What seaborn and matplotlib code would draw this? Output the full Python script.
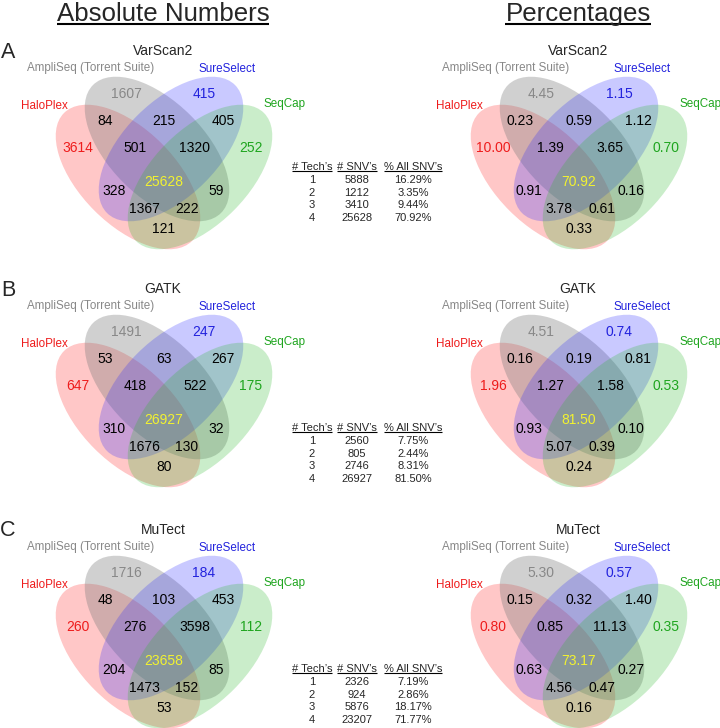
import matplotlib
matplotlib.use("Agg")
import matplotlib.pyplot as plt
from matplotlib.patches import Ellipse
import seaborn as sns

# ---- data ----
set_names = ["HaloPlex", "AmpliSeq (Torrent Suite)", "SureSelect", "SeqCap"]
callers = ["VarScan2", "GATK", "MuTect"]
panel_letters = ["A", "B", "C"]

regions = ["Amp", "Sure", "Halo", "Seq", "Halo&Amp", "Amp&Sure", "Sure&Seq",
           "Halo&Amp&Sure", "Amp&Sure&Seq", "All", "Halo&Sure", "Amp&Seq",
           "Halo&Sure&Seq", "Halo&Amp&Seq", "Halo&Seq"]

varscan_counts = [1607, 415, 3614, 252, 84, 215, 405, 501, 1320, 25628, 328, 59, 1367, 222, 121]
varscan_pct = [4.45, 1.15, 10.00, 0.70, 0.23, 0.59, 1.12, 1.39, 3.65, 70.92, 0.91, 0.16, 3.78, 0.61, 0.33]
gatk_counts = [1491, 247, 647, 175, 53, 63, 267, 418, 522, 26927, 310, 32, 1676, 130, 80]
gatk_pct = [4.51, 0.74, 1.96, 0.53, 0.16, 0.19, 0.81, 1.27, 1.58, 81.50, 0.93, 0.10, 5.07, 0.39, 0.24]
mutect_counts = [1716, 184, 260, 112, 48, 103, 453, 276, 3598, 23658, 204, 85, 1473, 152, 53]
mutect_pct = [5.30, 0.57, 0.80, 0.35, 0.15, 0.32, 1.40, 0.85, 11.13, 73.17, 0.63, 0.27, 4.56, 0.47, 0.16]

n_techs = [1, 2, 3, 4]
varscan_snvs = [5888, 1212, 3410, 25628]
varscan_share = [16.29, 3.35, 9.44, 70.92]
gatk_snvs = [2560, 805, 2746, 26927]
gatk_share = [7.75, 2.44, 8.31, 81.50]
mutect_snvs = [2326, 924, 5876, 23207]
mutect_share = [7.19, 2.86, 18.17, 71.77]

counts = [varscan_counts, gatk_counts, mutect_counts]
pcts = [varscan_pct, gatk_pct, mutect_pct]
snvs = [varscan_snvs, gatk_snvs, mutect_snvs]
shares = [varscan_share, gatk_share, mutect_share]

# ---- layout (pixel units inside one venn panel) ----
label_pos = {"Amp": (126, 94), "Sure": (204, 94), "Halo": (78, 148), "Seq": (251, 148),
             "Halo&Amp": (105, 121), "Amp&Sure": (164, 121), "Sure&Seq": (223, 121),
             "Halo&Amp&Sure": (135, 148), "Amp&Sure&Seq": (195, 148), "All": (164, 182),
             "Halo&Sure": (114, 191), "Amp&Seq": (216, 191), "Halo&Sure&Seq": (144, 209),
             "Halo&Amp&Seq": (187, 209), "Halo&Seq": (164, 229)}
fill_colors = ["#ff2020", "#7a7a7a", "#2a2aff", "#2db82d"]
fill_alpha = [0.25, 0.35, 0.25, 0.25]
text_colors = ["#ee1c1c", "#888888", "#2222dd", "#1fa51f"]
ell_centers = [(128, 177), (157, 149), (171, 149), (200, 177)]
ell_angles = [45, 45, -45, -45]
ell_w, ell_h = 181, 95
set_label_pos = [(44, 106), (91, 68), (227, 69), (285, 104)]
region_color = {"Halo": text_colors[0], "Amp": text_colors[1], "Sure": text_colors[2],
                "Seq": text_colors[3], "All": "#f2f230"}

row_offsets = [0, 238, 479]
col_offsets = [0, 415]
table_top = [167, 428, 669]
table_cols = [312, 357, 413]

sns.set_theme(style="white")
plt.rcParams["font.family"] = ["Liberation Sans", "DejaVu Sans"]

fig = plt.figure(figsize=(7.2, 7.28), dpi=100)
ax = fig.add_axes([0, 0, 1, 1])
ax.set_xlim(0, 720)
ax.set_ylim(728, 0)
ax.axis("off")

to_underline = []

def draw_venn(dx, dy, caller, values, fmt):
    for i in range(4):
        cx, cy = ell_centers[i]
        ax.add_patch(Ellipse((cx + dx, cy + dy), ell_w, ell_h, angle=ell_angles[i],
                             facecolor=fill_colors[i], alpha=fill_alpha[i], lw=0))
    for i, name in enumerate(set_names):
        lx, ly = set_label_pos[i]
        ax.text(lx + dx, ly + dy, name, color=text_colors[i], fontsize=8.4,
                ha="center", va="center")
    ax.text(163 + dx, 51 + dy, caller, fontsize=10, ha="center", va="center")
    for key, v in zip(regions, values):
        px, py = label_pos[key]
        ax.text(px + dx, py + dy, fmt(v), fontsize=10, ha="center", va="center",
                color=region_color.get(key, "black"))

for r in range(3):
    dy = row_offsets[r]
    draw_venn(col_offsets[0], dy, callers[r], counts[r], lambda v: f"{v}")
    draw_venn(col_offsets[1], dy, callers[r], pcts[r], lambda v: f"{v:.2f}")
    ax.text(8, 52 + dy, panel_letters[r], fontsize=15.5, ha="center", va="center")

    ty = table_top[r]
    for x, h in zip(table_cols, ["# Tech\u2019s", "# SNV\u2019s", "% All SNV\u2019s"]):
        to_underline.append(ax.text(x, ty, h, fontsize=8, ha="center", va="center"))
    for k in range(4):
        yy = ty + 12.8 * (k + 1)
        ax.text(table_cols[0], yy, f"{n_techs[k]}", fontsize=8, ha="center", va="center")
        ax.text(table_cols[1], yy, f"{snvs[r][k]}", fontsize=8, ha="center", va="center")
        ax.text(table_cols[2], yy, f"{shares[r][k]:.2f}%", fontsize=8, ha="center", va="center")

to_underline.append(ax.text(163, 14, "Absolute Numbers", fontsize=18.6, ha="center", va="center"))
to_underline.append(ax.text(578, 14, "Percentages", fontsize=18.6, ha="center", va="center"))

fig.canvas.draw()
inv = ax.transData.inverted()
for t in to_underline:
    bb = t.get_window_extent().transformed(inv)
    bottom = max(bb.y0, bb.y1)
    height = abs(bb.y1 - bb.y0)
    yline = bottom - 0.1 * height
    lw = 1.5 if t.get_fontsize() > 10 else 0.8
    ax.plot([bb.x0, bb.x1], [yline, yline], color="black", lw=lw, solid_capstyle="butt")

fig.savefig("out.png", dpi=100)
